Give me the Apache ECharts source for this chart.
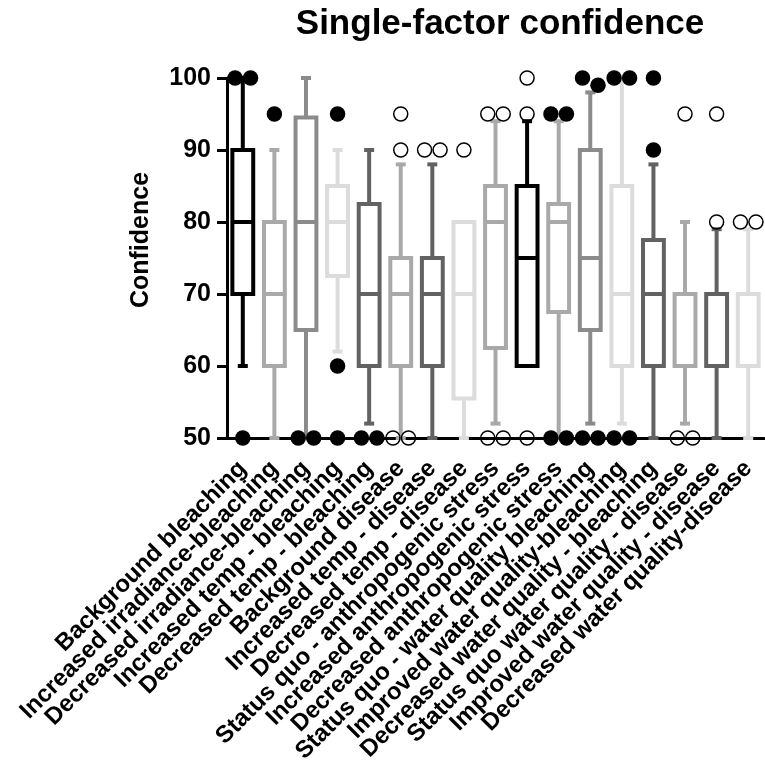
<!DOCTYPE html>
<html>
<head>
<meta charset="utf-8">
<script src="https://cdn.jsdelivr.net/npm/echarts@6/dist/echarts.min.js"></script>
<style>
  html, body { margin: 0; padding: 0; background: #fff; }
  #chart { width: 765px; height: 774px; }
</style>
</head>
<body>
<div id="chart"></div>
<script>
// Scenario names shown along the x axis
const categories = [
  'Background bleaching',
  'Increased irradiance-bleaching',
  'Decreased irradiance-bleaching',
  'Increased temp - bleaching',
  'Decreased temp - bleaching',
  'Background disease',
  'Increased temp - disease',
  'Decreased temp - disease',
  'Status quo - anthropogenic stress',
  'Increased anthropogenic stress',
  'Decreased anthropogenic stress',
  'Status quo - water quality bleaching',
  'Improved water quality-bleaching',
  'Decreased water quality - bleaching',
  'Status quo water quality - disease',
  'Improved water quality - disease',
  'Decreased water quality-disease'
];

// Box statistics per scenario (confidence, %)
const lowWhisker  = [60, 50, 50, 62,   52, 50, 50, 50,   52, 60, 50,   52, 52, 50,   52, 50, 50];
const q1          = [70, 60, 65, 72.5, 60, 60, 60, 55.5, 62.5, 60, 67.5, 65, 60, 60,  60, 60, 60];
const median      = [80, 70, 80, 80,   70, 70, 70, 70,   80, 75, 80,   75, 70, 70,   70, 70, 70];
const q3          = [90, 80, 94.5, 85, 82.5, 75, 75, 80, 85, 85, 82.5, 90, 85, 77.5, 70, 70, 70];
const highWhisker = [100, 90, 100, 90, 90, 88, 88, 80,   94, 94, 94,   98, 100, 88,  80, 79, 79];

// Individual responses outside the whiskers
const outliers = [
  [100, 100, 50],
  [95],
  [50, 50],
  [95, 60, 50],
  [50, 50],
  [95, 90, 50, 50],
  [90, 90],
  [90],
  [95, 95, 50, 50],
  [100, 95, 50],
  [95, 95, 50, 50],
  [100, 99, 50, 50],
  [100, 100, 50, 50],
  [100, 90],
  [95, 50, 50],
  [95, 80],
  [80, 80]
];

// Y axis range and ticks
const yMin = 50;
const yMax = 100;
const yStep = 10;

// Greyscale styling per scenario
const BLACK = '#000000', DARK = '#626262', MID = '#8b8b8b', LIGHT = '#a9a9a9', PALE = '#dcdcdc';
const boxColors = [BLACK, LIGHT, MID, PALE, DARK, LIGHT, DARK, PALE, LIGHT, BLACK, LIGHT, MID, PALE, DARK, LIGHT, DARK, PALE];
const outlierFilled = [true, true, true, true, true, false, false, false, false, false, true, true, true, true, false, false, false];

const FONT = 'Liberation Sans, Arial, sans-serif';
const DOT = 15.5;        // dot diameter, px
const LINE_W = 4;        // box / whisker stroke

const boxData = categories.map((c, i) => [i, lowWhisker[i], q1[i], median[i], q3[i], highWhisker[i]]);

// Spread dots that would overlap side by side (values closer than ~2 units)
const outlierData = [];
outliers.forEach((vals, i) => {
  const sorted = vals.slice().sort((a, b) => b - a);
  let group = [];
  const flush = () => {
    group.forEach((v, k) => outlierData.push([i, v, (k - (group.length - 1) / 2) * DOT]));
    group = [];
  };
  sorted.forEach(v => {
    if (group.length && group[group.length - 1] - v >= 2.1) flush();
    group.push(v);
  });
  flush();
});

function renderBox(params, api) {
  const i = api.value(0);
  const pLow = api.coord([i, api.value(1)]);
  const yQ1 = api.coord([i, api.value(2)])[1];
  const yMed = api.coord([i, api.value(3)])[1];
  const yQ3 = api.coord([i, api.value(4)])[1];
  const yHigh = api.coord([i, api.value(5)])[1];
  const x = pLow[0];
  const yLow = pLow[1];
  const half = api.size([1, 0])[0] * 0.33;
  const capHalf = 5;
  const color = boxColors[i];
  const st = { stroke: color, lineWidth: LINE_W, fill: null };
  const children = [];
  if (yHigh < yQ3) {
    children.push({ type: 'line', shape: { x1: x, y1: yQ3, x2: x, y2: yHigh }, style: st });
    children.push({ type: 'line', shape: { x1: x - capHalf, y1: yHigh, x2: x + capHalf, y2: yHigh }, style: st });
  }
  if (yLow > yQ1) {
    children.push({ type: 'line', shape: { x1: x, y1: yQ1, x2: x, y2: yLow }, style: st });
    children.push({ type: 'line', shape: { x1: x - capHalf, y1: yLow, x2: x + capHalf, y2: yLow }, style: st });
  }
  children.push({
    type: 'rect',
    shape: { x: x - half, y: yQ3, width: half * 2, height: yQ1 - yQ3 },
    style: { fill: '#ffffff', stroke: color, lineWidth: LINE_W }
  });
  children.push({ type: 'line', shape: { x1: x - half, y1: yMed, x2: x + half, y2: yMed }, style: st });
  return { type: 'group', children: children };
}

function renderOutlier(params, api) {
  const i = api.value(0);
  const p = api.coord([i, api.value(1)]);
  const dx = api.value(2);
  const filled = outlierFilled[i];
  return {
    type: 'circle',
    shape: { cx: p[0] + dx, cy: p[1], r: filled ? DOT / 2 : DOT / 2 - 0.75 },
    style: filled ? { fill: '#000' } : { fill: null, stroke: '#000', lineWidth: 1.5 }
  };
}

const chart = echarts.init(document.getElementById('chart'), null, { renderer: 'canvas' });
chart.setOption({
  backgroundColor: '#ffffff',
  animation: false,
  grid: { left: 227, right: 1, top: 78, bottom: 336, containLabel: false },
  graphic: [
    {
      type: 'text', x: 500, y: 24,
      style: { text: 'Single-factor confidence', font: 'bold 35px ' + FONT, fill: '#000', textAlign: 'center', textVerticalAlign: 'middle' }
    },
    {
      type: 'text', x: 141, y: 240, rotation: Math.PI / 2,
      style: { text: 'Confidence', font: 'bold 25px ' + FONT, fill: '#000', textAlign: 'center', textVerticalAlign: 'middle' }
    }
  ],
  xAxis: {
    type: 'category',
    data: categories,
    boundaryGap: true,
    axisLine: { lineStyle: { color: '#000', width: 3 } },
    axisTick: { alignWithLabel: true, length: 9, lineStyle: { color: '#000', width: 3 } },
    axisLabel: {
      interval: 0, rotate: 45, margin: 27,
      color: '#000', fontFamily: FONT, fontWeight: 'bold', fontSize: 24
    },
    splitLine: { show: false }
  },
  yAxis: {
    type: 'value',
    min: yMin, max: yMax, interval: yStep,
    axisLine: { show: true, lineStyle: { color: '#000', width: 3 } },
    axisTick: { show: true, length: 10, lineStyle: { color: '#000', width: 3 } },
    axisLabel: { margin: 16, color: '#000', fontFamily: FONT, fontWeight: 'bold', fontSize: 25 },
    splitLine: { show: false }
  },
  series: [
    {
      type: 'custom', name: 'box', clip: false,
      renderItem: renderBox,
      encode: { x: 0, y: [1, 2, 3, 4, 5] },
      data: boxData, z: 3
    },
    {
      type: 'custom', name: 'outliers', clip: false,
      renderItem: renderOutlier,
      encode: { x: 0, y: 1 },
      data: outlierData, z: 4
    }
  ]
});
</script>
</body>
</html>
